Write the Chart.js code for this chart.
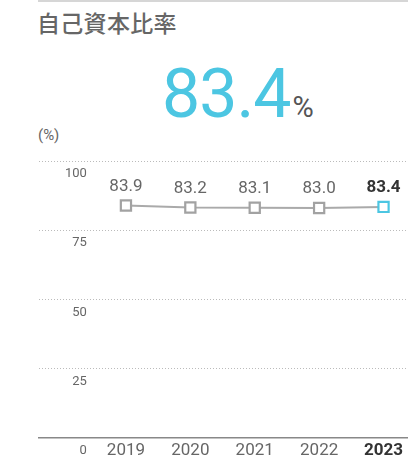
<!DOCTYPE html>
<html>
<head>
<meta charset="utf-8">
<script src="https://cdn.jsdelivr.net/npm/chart.js@4.4.1/dist/chart.umd.min.js"></script>
<style>
  html, body { margin: 0; padding: 0; background: #fff; }
  #wrap { position: relative; width: 408px; height: 464px; overflow: hidden; }
  #topline { position: absolute; left: 38px; right: 0; top: 0; height: 2px; background: #d6d6d6; }
  #title { position: absolute; left: 37px; top: 5px; font: 500 23px "Noto Sans CJK JP", sans-serif; color: #666; letter-spacing: 0.3px; }
  #big { position: absolute; left: 162px; top: 60px; font: 68px/1 Roboto, sans-serif; color: #4cc6e2; letter-spacing: -1px; white-space: nowrap; }
  #big span { font-size: 29px; color: #555; letter-spacing: 0; margin-left: 2px; }
  #unit { position: absolute; left: 38px; top: 126px; font: 15px Roboto, sans-serif; color: #666; }
  #chart { position: absolute; left: 0; top: 0; }
</style>
</head>
<body>
<div id="wrap">
  <div id="topline"></div>
  <div id="title">自己資本比率</div>
  <div id="big">83.4<span>%</span></div>
  <div id="unit">(%)</div>
  <canvas id="chart" width="408" height="464"></canvas>
</div>
<script>
// data
var years = [2019, 2020, 2021, 2022, 2023];
var ratios = [83.9, 83.2, 83.1, 83.0, 83.4];
var yTicks = [0, 25, 50, 75, 100];

var numFont = 'Roboto, sans-serif';
var cyan = '#4cc6e2';
var lastIdx = years.length - 1;

// draw value labels above each point
var valueLabels = {
    id: 'valueLabels',
    afterDatasetsDraw: function (chart) {
        var ctx = chart.ctx;
        var meta = chart.getDatasetMeta(0);
        ctx.save();
        ctx.textAlign = 'center';
        ctx.textBaseline = 'middle';
        meta.data.forEach(function (pt, i) {
            var last = i === lastIdx;
            ctx.font = (last ? 'bold ' : '') + '17px ' + numFont;
            ctx.fillStyle = last ? '#333' : '#666';
            ctx.fillText(ratios[i].toFixed(1), pt.x, pt.y - 19);
        });
        ctx.restore();
    }
};

new Chart(document.getElementById('chart'), {
    type: 'line',
    data: {
        datasets: [{
            data: years.map(function (y, i) { return { x: y, y: ratios[i] }; }),
            borderColor: '#aaa',
            borderWidth: 2,
            pointStyle: 'rect',
            pointRadius: 7.2,
            pointBorderWidth: 2.2,
            pointBackgroundColor: '#fff',
            pointBorderColor: ratios.map(function (v, i) { return i === lastIdx ? cyan : '#a2a2a2'; })
        }]
    },
    options: {
        responsive: false,
        animation: false,
        events: [],
        layout: { autoPadding: false, padding: { left: 39, top: 161, right: 0, bottom: 0 } },
        plugins: { legend: { display: false }, tooltip: { enabled: false } },
        scales: {
            x: {
                type: 'linear',
                min: 2017.65,
                max: 2023.38,
                afterBuildTicks: function (axis) {
                    axis.ticks = years.map(function (y) { return { value: y }; });
                },
                afterFit: function (axis) { axis.paddingLeft = 0; axis.paddingRight = 0; },
                grid: { display: false, drawTicks: false },
                border: { display: true, color: '#888', width: 1.5 },
                ticks: {
                    padding: 3,
                    maxRotation: 0,
                    color: function (c) { return c.tick && c.tick.value === years[lastIdx] ? '#333' : '#666'; },
                    font: function (c) {
                        var last = c.tick && c.tick.value === years[lastIdx];
                        return { family: numFont, size: 17, weight: last ? 'bold' : 'normal' };
                    },
                    callback: function (v) { return String(v); }
                }
            },
            y: {
                min: 0,
                max: 100,
                afterBuildTicks: function (axis) {
                    axis.ticks = yTicks.map(function (v) { return { value: v }; });
                },
                afterFit: function (axis) {
                    axis.width = 0;
                    axis.paddingTop = 0;
                    axis.paddingBottom = 0;
                },
                grid: {
                    drawTicks: false,
                    color: function (c) { return c.tick && c.tick.value === 0 ? 'rgba(0,0,0,0)' : '#bbb'; },
                    lineWidth: 1
                },
                border: { display: false, dash: [1, 2] },
                ticks: {
                    mirror: true,
                    crossAlign: 'far',
                    padding: 26,
                    labelOffset: 13,
                    color: '#666',
                    font: { family: numFont, size: 13 }
                }
            }
        }
    },
    plugins: [valueLabels]
});
</script>
</body>
</html>
